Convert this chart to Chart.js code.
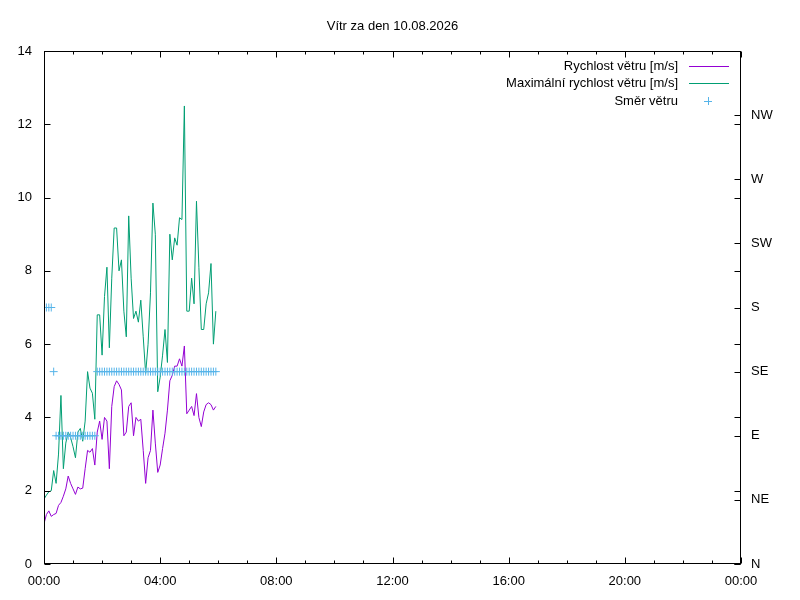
<!DOCTYPE html>
<html>
<head>
<meta charset="utf-8">
<script src="https://cdn.jsdelivr.net/npm/chart.js@4"></script>
<style>
  html, body { margin: 0; padding: 0; background: #fff; }
  #wrap { width: 800px; height: 600px; }
</style>
</head>
<body>
<div id="wrap"><canvas id="windChart" width="800" height="600"></canvas></div>
<script>
// readings every 5 minutes from 00:00
const stepMinutes = 5;
const speed = [
  1.1, 1.35, 1.45, 1.3, 1.35, 1.38, 1.6, 1.68, 1.85, 2.05,
  2.4, 2.2, 2.05, 1.9, 2.1, 2.05, 2.07, 2.6, 3.1, 3.05,
  3.15, 2.7, 3.6, 3.9, 3.4, 4.0, 3.9, 2.6, 4.3, 4.84,
  5.0, 4.9, 4.75, 3.5, 3.6, 4.3, 4.4, 3.5, 4.0, 3.9,
  3.95, 3.1, 2.2, 2.9, 3.1, 4.2, 3.3, 2.5, 2.7, 3.15,
  3.57, 4.2, 5.0, 5.15, 5.4, 5.4, 5.6, 5.4, 5.95, 4.1,
  4.2, 4.3, 4.05, 4.65, 4.0, 3.75, 4.15, 4.35, 4.4, 4.35,
  4.2, 4.3
];
const gust = [
  1.77, 1.88, 1.97, 2.0, 2.55, 2.2, 3.0, 4.6, 2.6, 3.3,
  3.6, 3.45, 3.2, 2.9, 3.6, 3.7, 3.35, 3.9, 5.25, 4.8,
  4.66, 3.95, 6.8, 6.8, 5.7, 7.3, 8.1, 5.9, 7.8, 9.17,
  9.17, 8.0, 8.3, 6.9, 6.2, 9.5, 7.8, 6.7, 6.9, 6.6,
  7.2, 6.2, 5.2, 6.0, 7.4, 9.85, 9.0, 4.7, 5.1, 5.7,
  6.4, 5.5, 9.0, 8.3, 8.9, 8.7, 9.45, 9.4, 12.5, 6.9,
  6.9, 7.8, 7.1, 9.9, 8.1, 6.4, 6.4, 7.1, 7.4, 8.2,
  6.0, 6.9
];
// direction in degrees
const direction = [
  180, 180, 180, 180, 135, 90, 90, 90, 90, 90,
  90, 90, 90, 90, 90, 90, 90, 90, 90, 90,
  90, 90, 135, 135, 135, 135, 135, 135, 135, 135,
  135, 135, 135, 135, 135, 135, 135, 135, 135, 135,
  135, 135, 135, 135, 135, 135, 135, 135, 135, 135,
  135, 135, 135, 135, 135, 135, 135, 135, 135, 135,
  135, 135, 135, 135, 135, 135, 135, 135, 135, 135,
  135, 135
];
const directionLabels = ['N', 'NE', 'E', 'SE', 'S', 'SW', 'W', 'NW'];
const seriesNames = ['Rychlost větru [m/s]', 'Maximální rychlost větru [m/s]', 'Směr větru'];
const titleText = 'Vítr za den 10.08.2026';

const FAMILY = '"Liberation Sans", Arial, sans-serif';
const FONT = '13px ' + FAMILY;

function toPoints(values) {
  return values.map((v, i) => ({ x: i * stepMinutes, y: v }));
}

function hhmm(min) {
  const h = Math.floor(min / 60) % 24;
  const m = min % 60;
  return String(h).padStart(2, '0') + ':' + String(m).padStart(2, '0');
}

// gnuplot-like frame, inward ticks, title and key
const gnuplotFrame = {
  id: 'gnuplotFrame',
  afterDraw(chart) {
    const { ctx, chartArea: a, scales } = chart;
    const L = Math.round(a.left) + 0.5, R = Math.round(a.right) - 0.5;
    const T = Math.round(a.top) + 0.5, B = Math.round(a.bottom) - 0.5;
    ctx.save();
    ctx.strokeStyle = '#000';
    ctx.lineWidth = 1;
    ctx.strokeRect(L, T, R - L, B - T);

    ctx.beginPath();
    // y ticks, left and mirrored right
    for (let v = 0; v <= 14; v += 2) {
      const y = Math.round(scales.y.getPixelForValue(v)) + 0.5;
      ctx.moveTo(L, y); ctx.lineTo(L + 6, y);
      ctx.moveTo(R, y); ctx.lineTo(R - 6, y);
    }
    // y2 ticks on right
    for (let v = 0; v < 360; v += 45) {
      const y = Math.round(scales.y2.getPixelForValue(v)) + 0.5;
      ctx.moveTo(R, y); ctx.lineTo(R - 6, y);
    }
    // x ticks: major 4h, minor 1h, bottom and top
    for (let m = 0; m <= 1440; m += 60) {
      const x = Math.round(scales.x.getPixelForValue(m)) + 0.5;
      const len = m % 240 === 0 ? 6 : 3;
      ctx.moveTo(x, B); ctx.lineTo(x, B - len);
      ctx.moveTo(x, T); ctx.lineTo(x, T + len);
    }
    ctx.stroke();

    // title
    ctx.fillStyle = '#000';
    ctx.font = FONT;
    ctx.textAlign = 'center';
    ctx.textBaseline = 'middle';
    ctx.fillText(titleText, (a.left + a.right) / 2, 26);

    // key
    const rows = [66, 83, 101];
    chart.data.datasets.forEach((ds, i) => {
      const y = rows[i];
      ctx.fillStyle = '#000';
      ctx.textAlign = 'right';
      ctx.fillText(ds.label, 678, y);
      ctx.strokeStyle = ds.borderColor;
      ctx.beginPath();
      if (i < 2) {
        ctx.moveTo(689, y + 0.5); ctx.lineTo(729, y + 0.5);
      } else {
        ctx.moveTo(704, y + 0.5); ctx.lineTo(712, y + 0.5);
        ctx.moveTo(708.5, y - 4); ctx.lineTo(708.5, y + 4);
      }
      ctx.stroke();
    });
    ctx.restore();
  }
};

new Chart(document.getElementById('windChart'), {
  type: 'line',
  data: {
    datasets: [
      {
        label: seriesNames[0],
        data: toPoints(speed),
        yAxisID: 'y',
        borderColor: '#9400d3',
        borderWidth: 1,
        pointRadius: 0,
        tension: 0,
        order: 2
      },
      {
        label: seriesNames[1],
        data: toPoints(gust),
        yAxisID: 'y',
        borderColor: '#009e73',
        borderWidth: 1,
        pointRadius: 0,
        tension: 0,
        order: 1
      },
      {
        label: seriesNames[2],
        data: toPoints(direction),
        yAxisID: 'y2',
        showLine: false,
        borderColor: '#56b4e9',
        backgroundColor: '#56b4e9',
        pointStyle: 'cross',
        pointRadius: 4,
        pointBorderWidth: 1,
        order: 0
      }
    ]
  },
  options: {
    responsive: false,
    devicePixelRatio: 1,
    animation: false,
    layout: { padding: { top: 51, left: 0, right: 0, bottom: 0 } },
    plugins: {
      legend: { display: false },
      title: { display: false },
      tooltip: { enabled: false }
    },
    scales: {
      x: {
        type: 'linear',
        min: 0,
        max: 1440,
        grid: { display: false, drawTicks: false },
        border: { display: false },
        afterFit(s) { s.height = 36; },
        ticks: {
          stepSize: 240,
          padding: 10,
          color: '#000',
          font: { family: FAMILY, size: 13 },
          maxRotation: 0,
          autoSkip: false,
          callback: v => hhmm(v)
        }
      },
      y: {
        position: 'left',
        min: 0,
        max: 14,
        grid: { display: false, drawTicks: false },
        border: { display: false },
        afterFit(s) { s.width = 44; },
        ticks: {
          stepSize: 2,
          padding: 12,
          color: '#000',
          font: { family: FAMILY, size: 13 }
        }
      },
      y2: {
        position: 'right',
        min: 0,
        max: 360,
        grid: { display: false, drawTicks: false },
        border: { display: false },
        afterFit(s) { s.width = 59; },
        ticks: {
          stepSize: 45,
          padding: 10,
          color: '#000',
          font: { family: FAMILY, size: 13 },
          callback: v => (v < 360 ? directionLabels[v / 45] : '')
        }
      }
    }
  },
  plugins: [gnuplotFrame]
});
</script>
</body>
</html>
